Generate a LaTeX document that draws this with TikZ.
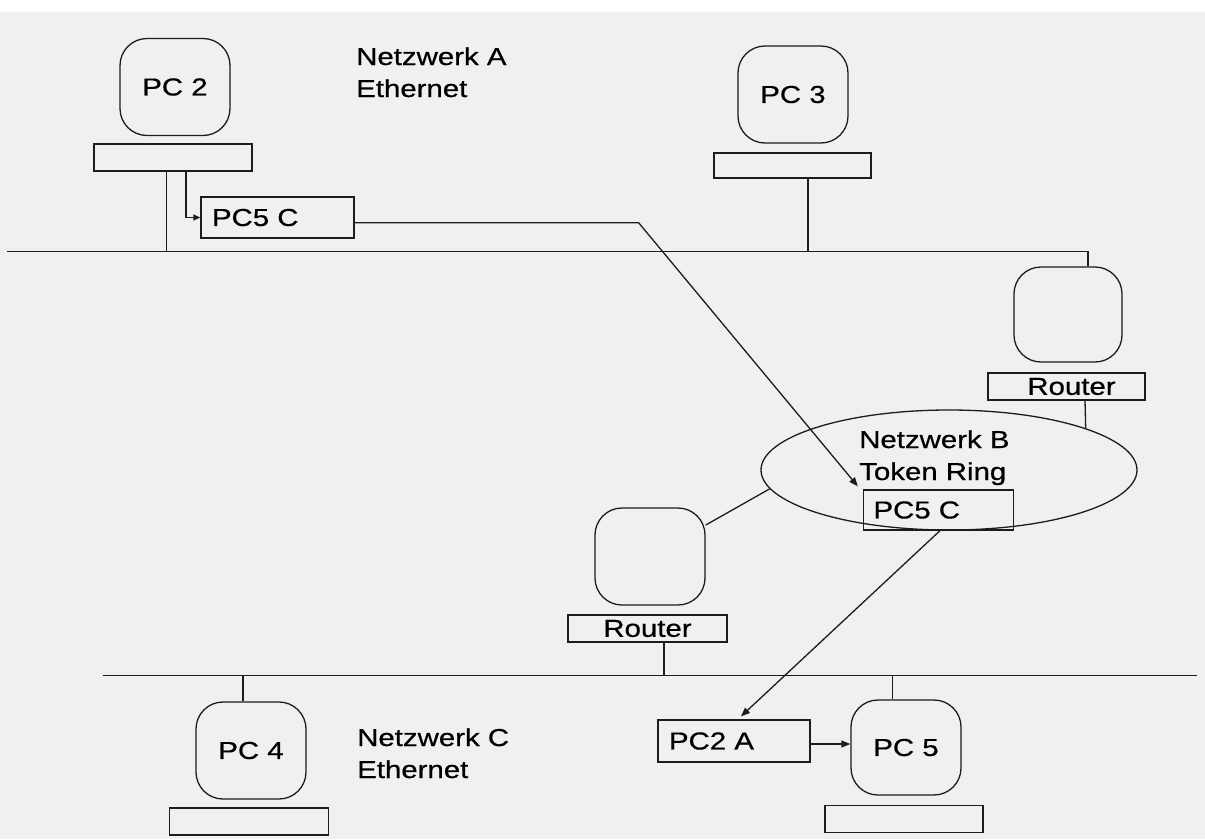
\documentclass[tikz,border=0pt]{standalone}
\usepackage{fontspec}
\setmainfont{Liberation Sans}[FakeStretch=1.2,FakeBold=0.6]
\usetikzlibrary{arrows.meta,shapes.geometric}
\definecolor{paper}{RGB}{240,240,240}
\definecolor{ink}{RGB}{28,28,28}
\newcommand\figfont{\fontsize{24.5}{32}\selectfont}
\begin{document}
\begin{tikzpicture}[x=1pt,y=-1pt,
  wire/.style={draw=ink, line width=1.3pt},
  arr/.style={wire, -{Triangle[length=9pt,width=7pt]}},
  pcbox/.style={wire, rounded corners=27pt, minimum width=110pt,
    minimum height=97pt, inner sep=0pt, font=\figfont},
  nicbox/.style={wire, minimum width=158pt, minimum height=27pt,
    inner sep=0pt, font=\figfont},
  tagbox/.style={wire, text width=131pt, inner xsep=11pt, inner ysep=0pt,
    minimum height=41pt, align=left, font=\figfont},
  netlabel/.style={anchor=base west, align=left, inner sep=0pt, font=\figfont}]

% paper
\useasboundingbox (0,0) rectangle (1205,839);
\fill[paper] (0,12) rectangle (1205,839);

% ---------- Netzwerk A (Ethernet) ----------
\node[pcbox] (pc2) at (175,87) {PC 2};
\node[nicbox] (nic2) at (173,157.5) {};
\node[tagbox] (pc5cA) at (277.5,217.5) {PC5 C};
\node[netlabel] (netA) at (356,97) {Netzwerk A\\Ethernet};
\node[pcbox] (pc3) at (793,94.5) {PC 3};
\node[nicbox, minimum width=157pt, minimum height=25pt] (nic3) at (792.5,165.5) {};

\coordinate (busAl) at (7,251.5);
\coordinate (busAr) at (1088,251.5);
\coordinate (bendA) at (638.6,222.7);

% ---------- right router ----------
\node[pcbox, minimum width=108pt, minimum height=95pt] (rpc) at (1068,314.5) {};
\node[nicbox, minimum width=157pt] (rrouter) at (1066.5,386.5) {\hspace*{10pt}Router};

% ---------- Netzwerk B (Token Ring) ----------
\node[wire, ellipse, minimum width=376pt, minimum height=120pt, inner sep=0pt] (ring) at (949,470) {};
\node[netlabel] (netB) at (859,480) {Netzwerk B\\Token Ring};
\node[tagbox, text width=130pt, inner xsep=10pt, minimum height=40pt] (pc5cB) at (938.5,510) {PC5 C};

% ---------- left router ----------
\node[pcbox] (lpc) at (650,556.5) {};
\node[nicbox, minimum width=159pt] (lrouter) at (647.5,628.5) {Router};

% ---------- Netzwerk C (Ethernet) ----------
\coordinate (busCl) at (102.6,675.5);
\coordinate (busCr) at (1197,675.5);
\node[pcbox] (pc4) at (251,750.5) {PC 4};
\node[nicbox, minimum width=159pt] (nic4) at (249,821.5) {};
\node[netlabel] (netC) at (357,778) {Netzwerk C\\Ethernet};
\node[tagbox, text width=130pt, minimum height=42pt] (pc2a) at (734,741) {PC2 A};
\node[pcbox, minimum height=95pt] (pc5) at (906,747.5) {PC 5};
\node[nicbox] (nic5) at (904,819) {};

% ---------- cabling ----------
\draw[wire] (busAl) -- (busAr) -- (busAr |- rpc.north);
\draw[wire] ([xshift=-6.5pt]nic2.south) -- ([xshift=-6.5pt]nic2.south |- busAl);
\draw[wire] ([xshift=15.5pt]nic3.south) -- ([xshift=15.5pt]nic3.south |- busAl);
\draw[wire] ([xshift=18.5pt]rrouter.south) -- (ring.17);
\draw[wire] (ring.186) -- (lpc);
\draw[wire] ([xshift=16.5pt]lrouter.south) -- ([xshift=16.5pt]lrouter.south |- busCl);
\draw[wire] (busCl) -- (busCr);
\draw[wire] ([xshift=-8pt]pc4.north |- busCl) -- ([xshift=-8pt]pc4.north);
\draw[wire] ([xshift=-13.5pt]pc5.north |- busCl) -- ([xshift=-13.5pt]pc5.north);

% ---------- packet path ----------
\draw[arr, -{Triangle[length=7pt,width=6pt]}] ([xshift=13pt]nic2.south) |- (pc5cA.west);
\draw[arr] (pc5cA.east |- bendA) -- (bendA) -- ([xshift=-5pt,yshift=3pt]pc5cB.north west);
\draw[arr] ([xshift=1.5pt]pc5cB.south) -- ([xshift=7pt,yshift=3pt]pc2a.north);
\draw[arr] ([yshift=-3pt]pc2a.east) -- ([yshift=-3pt]pc2a.east -| pc5.west);
\end{tikzpicture}
\end{document}
